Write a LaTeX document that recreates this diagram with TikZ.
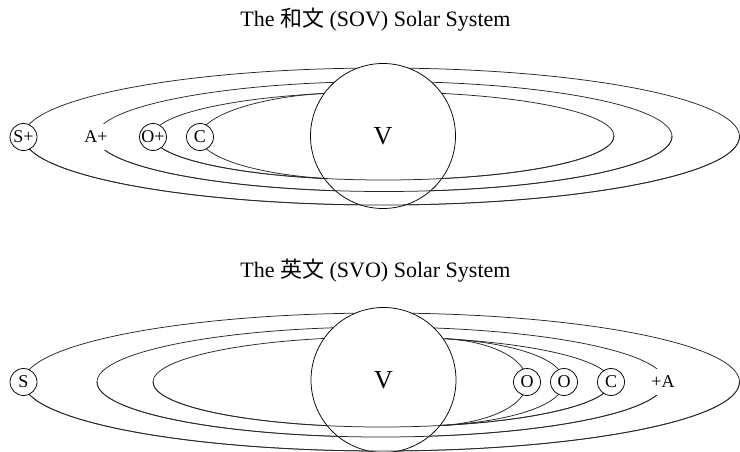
\documentclass[tikz,border=0pt]{standalone}
\usepackage{fontspec}
\setmainfont{Liberation Serif}
\newfontfamily\cjk{Noto Sans CJK JP}
\begin{document}
\begin{tikzpicture}[x=1pt,y=-1pt,line width=0.75pt,
  orb/.style={draw=black!85},
  planet/.style={circle,draw,fill=white,minimum size=27pt,inner sep=0pt,font=\fontsize{18}{18}\selectfont},
  bare/.style={fill=white,inner sep=1pt,minimum height=26pt,font=\fontsize{18}{18}\selectfont},
  sun/.style={circle,draw,fill=white,minimum size=145pt,inner sep=0pt,font=\fontsize{26}{26}\selectfont},
  title/.style={anchor=base,font=\fontsize{22}{24}\selectfont}]
\useasboundingbox (0,0) rectangle (740,452);

% ---------- titles ----------
\node[title] (t1) at (375.5,27) {The {\cjk 和文} (SOV) Solar System};
\node[title] (t2) at (375.5,277) {The {\cjk 英文} (SVO) Solar System};

% ---------- SOV system ----------
\coordinate (cA) at (200,137);
\draw[orb] (381.5,136.5) ellipse [x radius=358, y radius=68.5];
\draw[orb] (384,136.5) ellipse [x radius=288, y radius=55];
\draw[orb] (383.5,136) ellipse [x radius=230.5, y radius=44];
\draw[orb] (323,93.5) .. controls (262,96.7) and (200,115) .. (cA);
\node[sun] (v1) at (383,136) {\raisebox{-2pt}{V}};
\begin{scope}
  \clip (0,136.5) rectangle (740,240);
  \draw[orb] (381.5,136.5) ellipse [x radius=358, y radius=68.5];
  \draw[orb] (384,136.5) ellipse [x radius=288, y radius=55];
  \draw[orb] (383.5,136) ellipse [x radius=230.5, y radius=44];
\end{scope}
\draw[orb] (cA) .. controls (200,159) and (265,175.5) .. (328,178.5);
\node[planet] (s1) at (23.5,137) {S+};
\node[bare] (a1) at (96,137) {A+};
\node[planet] (o1) at (153,137) {O+};
\node[planet] (c1) at (cA) {C};

% ---------- SVO system ----------
\coordinate (oA) at (527,382);
\coordinate (oB) at (564,382);
\draw[orb] (381.5,382) ellipse [x radius=358, y radius=69];
\draw[orb] (381,382) ellipse [x radius=284, y radius=55];
\draw[orb] (382,382) ellipse [x radius=229, y radius=45];
\draw[orb] (445,338.7) .. controls (490,341.2) and (527,358) .. (oA);
\draw[orb] (445,338.7) .. controls (510,342.4) and (564,358) .. (oB);
\node[sun] (v2) at (383.5,380) {\raisebox{-2pt}{V}};
\begin{scope}
  \clip (0,382) rectangle (740,452);
  \draw[orb] (381.5,382) ellipse [x radius=358, y radius=69];
  \draw[orb] (381,382) ellipse [x radius=284, y radius=55];
  \draw[orb] (382,382) ellipse [x radius=229, y radius=45];
\end{scope}
\draw[orb] (440,425.5) .. controls (487,423.1) and (527,406) .. (oA);
\draw[orb] (440,425.5) .. controls (507,422) and (564,406) .. (oB);
\node[planet] (s2) at (23.5,382) {S};
\node[planet] (o2) at (oA) {O};
\node[planet] (o3) at (oB) {O};
\node[planet] (c2) at (611,382) {C};
\node[bare] (a2) at (663,382) {+A};
\end{tikzpicture}
\end{document}
